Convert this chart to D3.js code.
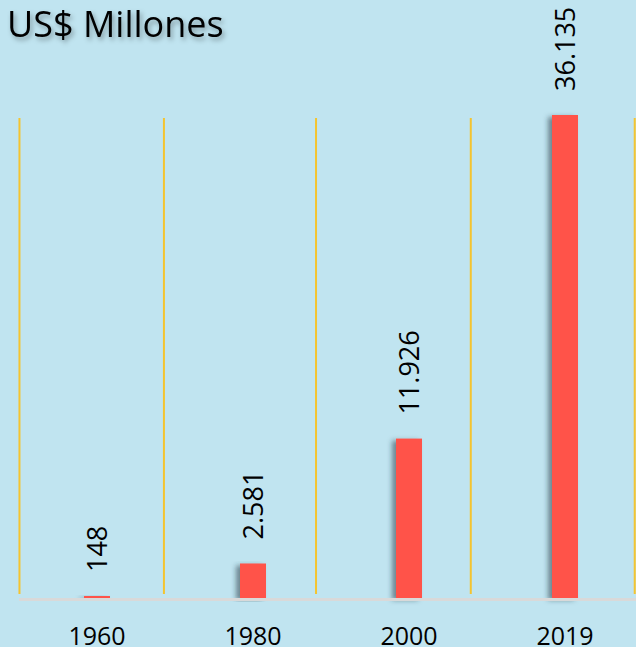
<!DOCTYPE html>
<html>
<head>
<meta charset="utf-8">
<script src="https://cdn.jsdelivr.net/npm/d3@7"></script>
<style>
  body { margin: 0; background: #c0e4f0; }
  svg { display: block; font-family: "Open Sans", "Liberation Sans", Arial, sans-serif; }
</style>
</head>
<body>
<div id="chart"></div>
<script>
// data
var years = ["1960", "1980", "2000", "2019"];
var values = [148, 2581, 11926, 36135];
var valueLabels = ["148", "2.581", "11.926", "36.135"];
var title = "US$ Millones";

var width = 636;
var height = 647;

// vertical gold lines (in category units, as they sit in the picture)
var gridAt = [0.003, 0.929, 1.904, 2.896, 3.947];

var svg = d3.select("#chart")
  .append("svg")
  .attr("width", width)
  .attr("height", height);

svg.append("rect")
  .attr("width", width)
  .attr("height", height)
  .attr("fill", "#c0e4f0");

var defs = svg.append("defs");
defs.append("filter")
  .attr("id", "barShadow")
  .attr("x", "-60%").attr("y", "-5%")
  .attr("width", "200%").attr("height", "115%")
  .append("feDropShadow")
  .attr("dx", -4).attr("dy", 2)
  .attr("stdDeviation", 2.5)
  .attr("flood-color", "#2a3a45")
  .attr("flood-opacity", 0.55);

defs.append("filter")
  .attr("id", "titleShadow")
  .attr("x", "-10%").attr("y", "-30%")
  .attr("width", "120%").attr("height", "160%")
  .append("feDropShadow")
  .attr("dx", 2).attr("dy", 3)
  .attr("stdDeviation", 2.5)
  .attr("flood-color", "#000")
  .attr("flood-opacity", 0.35);

// scales
var xScale = d3.scaleBand()
  .domain(years)
  .range([19, 643])
  .paddingInner(5 / 6)
  .paddingOuter(5 / 12);

var gridScale = d3.scaleLinear()
  .domain([0, 4])
  .range([19, 643]);

var yScale = d3.scaleLinear()
  .domain([0, 36135])
  .range([598, 115]);

// grid lines
svg.append("g")
  .selectAll("line")
  .data(gridAt)
  .enter()
  .append("line")
  .attr("x1", function (d) { return gridScale(d); })
  .attr("x2", function (d) { return gridScale(d); })
  .attr("y1", 118)
  .attr("y2", 594)
  .style("stroke", "#f4c430")
  .style("stroke-width", 2);

// bars
svg.append("g")
  .selectAll("rect")
  .data(values)
  .enter()
  .append("rect")
  .attr("x", function (d, i) { return xScale(years[i]); })
  .attr("y", function (d) { return yScale(d); })
  .attr("width", xScale.bandwidth())
  .attr("height", function (d) { return yScale(0) - yScale(d); })
  .attr("filter", "url(#barShadow)")
  .style("fill", "#ff5348");

// baseline
svg.append("line")
  .attr("x1", 19)
  .attr("x2", width)
  .attr("y1", yScale(0) + 1.5)
  .attr("y2", yScale(0) + 1.5)
  .style("stroke", "#d9d9d9")
  .style("stroke-width", 3);

// value labels, rotated
svg.append("g")
  .selectAll("text")
  .data(values)
  .enter()
  .append("text")
  .attr("transform", function (d, i) {
    var x = xScale(years[i]) + xScale.bandwidth() / 2;
    var y = yScale(d) - 24;
    return "translate(" + x + "," + y + ") rotate(-90)";
  })
  .attr("dy", "0.36em")
  .attr("font-size", "27px")
  .attr("fill", "#000")
  .text(function (d, i) { return valueLabels[i]; });

// x axis labels
var xAxis = d3.axisBottom(xScale).tickSize(0).tickPadding(0);
var gx = svg.append("g")
  .attr("transform", "translate(0,645)")
  .call(xAxis);
gx.select(".domain").remove();
gx.selectAll("text")
  .attr("y", 0)
  .attr("dy", 0)
  .attr("font-size", "25px")
  .attr("font-family", "Open Sans, Liberation Sans, Arial, sans-serif")
  .attr("fill", "#000");

// title
svg.append("text")
  .attr("x", 7)
  .attr("y", 37)
  .attr("font-size", "36px")
  .attr("fill", "#000")
  .attr("filter", "url(#titleShadow)")
  .text(title);
</script>
</body>
</html>
